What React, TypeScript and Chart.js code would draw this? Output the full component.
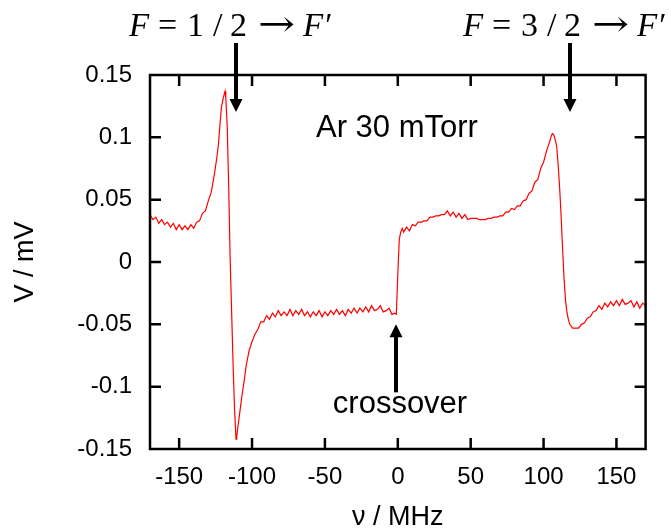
import React, { useEffect, useRef } from "react";
import { Chart, registerables } from "chart.js";

Chart.register(...registerables);

// Frequency detuning (MHz)
const freqMHz = [
  -170, -168, -166, -164, -162, -160, -158, -156, -154, -152, -150, -148, -146, -144, -142, -140,
  -138, -136, -134, -132, -130, -128, -126, -124, -123, -122, -121, -120, -119, -118.5, -118,
  -117, -116, -115, -114, -113, -112, -111, -110.5, -110, -109, -108, -107, -106, -105, -104,
  -103, -102, -100, -98, -96, -94, -92, -90, -88, -86, -84, -82, -80, -78, -76, -74, -72, -70,
  -68, -66, -64, -62, -60, -58, -56, -54, -52, -50, -48, -46, -44, -42, -40, -38, -36, -34, -32,
  -30, -28, -26, -24, -22, -20, -18, -16, -14, -12, -10, -8, -6, -4, -2, -1, 0, 1, 2, 3, 4, 6, 8,
  10, 12, 14, 16, 18, 20, 22, 24, 26, 28, 30, 32, 34, 36, 38, 40, 42, 44, 46, 48, 50, 52, 54, 56,
  58, 60, 62, 64, 66, 68, 70, 72, 74, 76, 78, 80, 82, 84, 86, 88, 90, 92, 94, 96, 98, 100, 102,
  104, 105, 106, 107, 108, 109, 110, 111, 112, 113, 114, 115, 116, 117, 118, 120, 122, 124, 126,
  128, 130, 132, 134, 136, 138, 140, 142, 144, 146, 148, 150, 152, 154, 156, 158, 160, 162, 164,
  166, 168, 170,
];

// Signal (mV)
const signalMV = [
  0.038, 0.034, 0.036, 0.031, 0.034, 0.030, 0.032, 0.028, 0.031, 0.026, 0.030, 0.026, 0.029, 0.026, 0.030, 0.027,
  0.032, 0.033, 0.039, 0.041, 0.049, 0.056, 0.069, 0.085, 0.095, 0.110, 0.124, 0.130, 0.135, 0.137, 0.132,
  0.108, 0.060, 0.002, -0.040, -0.082, -0.118, -0.142, -0.140, -0.135, -0.126, -0.117, -0.108, -0.100, -0.092, -0.083,
  -0.077, -0.071, -0.064, -0.058, -0.054, -0.048, -0.048, -0.043, -0.046, -0.041, -0.044, -0.039, -0.043, -0.040, -0.043, -0.038, -0.043, -0.039,
  -0.042, -0.038, -0.043, -0.040, -0.044, -0.040, -0.043, -0.039, -0.044, -0.040, -0.043, -0.039, -0.042, -0.038, -0.042, -0.039, -0.043, -0.038, -0.041,
  -0.037, -0.041, -0.037, -0.040, -0.036, -0.040, -0.035, -0.039, -0.038, -0.035, -0.040, -0.039, -0.037, -0.042, -0.041, -0.042, -0.010, 0.018, 0.024, 0.027, 0.024, 0.028, 0.025,
  0.030, 0.029, 0.032, 0.032, 0.033, 0.033, 0.036, 0.036, 0.037, 0.037, 0.038, 0.038, 0.041, 0.037, 0.040, 0.036, 0.039, 0.035, 0.038, 0.034, 0.035, 0.035, 0.035, 0.034,
  0.034, 0.034, 0.035, 0.035, 0.036, 0.036, 0.037, 0.037, 0.040, 0.040, 0.043, 0.042, 0.045, 0.045, 0.049, 0.050, 0.055, 0.057, 0.064, 0.066, 0.075, 0.080, 0.089,
  0.096, 0.100, 0.103, 0.102, 0.098, 0.093, 0.078, 0.060, 0.038, 0.012, -0.012, -0.030, -0.040, -0.046, -0.050, -0.053, -0.053, -0.053, -0.050,
  -0.049, -0.045, -0.044, -0.040, -0.039, -0.035, -0.038, -0.033, -0.036, -0.032, -0.035, -0.031, -0.035, -0.030, -0.034, -0.033, -0.031, -0.036, -0.032,
  -0.037, -0.033, -0.035,
];

const xTickValues = [-150, -100, -50, 0, 50, 100, 150];
const yTickValues = [-0.15, -0.1, -0.05, 0, 0.05, 0.1, 0.15];

const xRange = [-170, 170];
const yRange = [-0.15, 0.15];

const xAxisTitle = "ν / MHz";
const yAxisTitle = "V / mV";
const sampleLabel = "Ar 30 mTorr";
const crossoverLabel = "crossover";
const hyperfineNumerators = ["1", "3"];
const hyperfineArrowMHz = [-111, 118];
const crossoverArrowMHz = -1;

const SANS = "'Liberation Sans', Arial, sans-serif";
const SERIF = "'Liberation Serif', 'Times New Roman', serif";

function drawArrow(ctx: CanvasRenderingContext2D, x: number, y0: number, tipY: number) {
  const dir = tipY > y0 ? 1 : -1;
  const headH = 13;
  const headW = 6.5;
  ctx.beginPath();
  ctx.lineWidth = 4;
  ctx.moveTo(x, y0);
  ctx.lineTo(x, tipY - dir * headH + dir * 1);
  ctx.stroke();
  ctx.beginPath();
  ctx.moveTo(x, tipY);
  ctx.lineTo(x - headW, tipY - dir * headH);
  ctx.lineTo(x + headW, tipY - dir * headH);
  ctx.closePath();
  ctx.fill();
}

const annotationPlugin = {
  id: "annotations",
  afterDraw(chart: any) {
    const { ctx, chartArea: a, scales } = chart;
    const xs = scales.x;
    const ys = scales.y;
    ctx.save();
    ctx.strokeStyle = "#000";
    ctx.fillStyle = "#000";

    // frame
    ctx.lineWidth = 2.5;
    ctx.strokeRect(a.left, a.top, a.right - a.left, a.bottom - a.top);

    // inward ticks on all sides
    const tl = 11;
    ctx.beginPath();
    xTickValues.forEach((v) => {
      const px = xs.getPixelForValue(v);
      ctx.moveTo(px, a.bottom);
      ctx.lineTo(px, a.bottom - tl);
      ctx.moveTo(px, a.top);
      ctx.lineTo(px, a.top + tl);
    });
    yTickValues.forEach((v) => {
      const py = ys.getPixelForValue(v);
      if (Math.abs(py - a.top) < 2 || Math.abs(py - a.bottom) < 2) return;
      ctx.moveTo(a.left, py);
      ctx.lineTo(a.left + tl, py);
      ctx.moveTo(a.right, py);
      ctx.lineTo(a.right - tl, py);
    });
    ctx.stroke();

    // axis titles
    ctx.font = `27px ${SANS}`;
    ctx.textAlign = "center";
    ctx.textBaseline = "alphabetic";
    ctx.fillText(xAxisTitle, (a.left + a.right) / 2, 525);
    ctx.save();
    ctx.translate(33, (a.top + a.bottom) / 2);
    ctx.rotate(-Math.PI / 2);
    ctx.fillText(yAxisTitle, 0, 0);
    ctx.restore();

    // sample label
    ctx.font = `31px ${SANS}`;
    ctx.textAlign = "left";
    ctx.fillText(sampleLabel, 316, 137);

    // hyperfine arrows + labels
    hyperfineArrowMHz.forEach((f, i) => {
      const px = Math.round(xs.getPixelForValue(f));
      drawArrow(ctx, px, a.top - 32, a.top + 37);
      const parts: { t: string; font: string; off: number; w?: number }[] = [
        { t: "F", font: `italic 33px ${SERIF}`, off: 0 },
        { t: "=", font: `34px ${SERIF}`, off: 29 },
        { t: hyperfineNumerators[i], font: `34px ${SERIF}`, off: 58 },
        { t: "/", font: `34px ${SERIF}`, off: 84 },
        { t: "2", font: `34px ${SERIF}`, off: 101 },
        { t: "→", font: `36px 'DejaVu Serif', serif`, off: 129, w: 37 },
        { t: "F′", font: `italic 33px ${SERIF}`, off: 174 },
      ];
      const start = px - 107;
      const base = 36;
      ctx.textAlign = "left";
      parts.forEach((p) => {
        ctx.font = p.font;
        if (p.w) {
          const mw = ctx.measureText(p.t).width;
          ctx.save();
          ctx.translate(start + p.off, base);
          ctx.scale(p.w / mw, 1);
          ctx.fillText(p.t, 0, 0);
          ctx.restore();
        } else {
          ctx.fillText(p.t, start + p.off, base);
        }
      });
    });

    // crossover arrow + label
    const cxp = Math.round(xs.getPixelForValue(crossoverArrowMHz));
    const tip = ys.getPixelForValue(-0.05);
    drawArrow(ctx, cxp, tip + 68, tip);
    ctx.font = `31px ${SANS}`;
    ctx.textAlign = "center";
    ctx.fillText(crossoverLabel, cxp + 4, tip + 89);

    ctx.restore();
  },
};

export default function App() {
  const ref = useRef<HTMLCanvasElement | null>(null);
  useEffect(() => {
    if (!ref.current) return;
    const data = freqMHz.map((f, i) => ({ x: f, y: signalMV[i] }));
    const chart = new Chart(ref.current, {
      type: "line",
      data: {
        datasets: [
          {
            data,
            borderColor: "#ff0000",
            borderWidth: 1.2,
            pointRadius: 0,
            tension: 0,
            fill: false,
          },
        ],
      },
      options: {
        responsive: false,
        animation: false,
        devicePixelRatio: 1,
        layout: { padding: { top: 75, right: 25.4, left: 0, bottom: 0 } },
        plugins: { legend: { display: false }, tooltip: { enabled: false } },
        scales: {
          x: {
            type: "linear",
            min: xRange[0],
            max: xRange[1],
            grid: { display: false, drawTicks: false },
            border: { display: false },
            afterBuildTicks: (s: any) => {
              s.ticks = xTickValues.map((v) => ({ value: v }));
            },
            afterFit: (s: any) => {
              s.height = 81;
            },
            ticks: {
              font: { family: SANS, size: 24 },
              color: "#000",
              padding: 14,
              maxRotation: 0,
              autoSkip: false,
              callback: (v: any) => String(Number(Number(v).toFixed(0))),
            },
          },
          y: {
            type: "linear",
            min: yRange[0],
            max: yRange[1],
            grid: { display: false, drawTicks: false },
            border: { display: false },
            afterBuildTicks: (s: any) => {
              s.ticks = yTickValues.map((v) => ({ value: v }));
            },
            afterFit: (s: any) => {
              s.width = 150;
            },
            ticks: {
              font: { family: SANS, size: 24 },
              color: "#000",
              padding: 18,
              autoSkip: false,
              callback: (v: any) => String(Number(Number(v).toFixed(2))),
            },
          },
        },
      },
      plugins: [annotationPlugin],
    } as any);
    return () => chart.destroy();
  }, []);
  return (
    <div style={{ position: "fixed", left: 0, top: 0, width: 671, height: 530, background: "#fff" }}>
      <canvas ref={ref} width={671} height={530} style={{ width: 671, height: 530, display: "block" }} />
    </div>
  );
}
